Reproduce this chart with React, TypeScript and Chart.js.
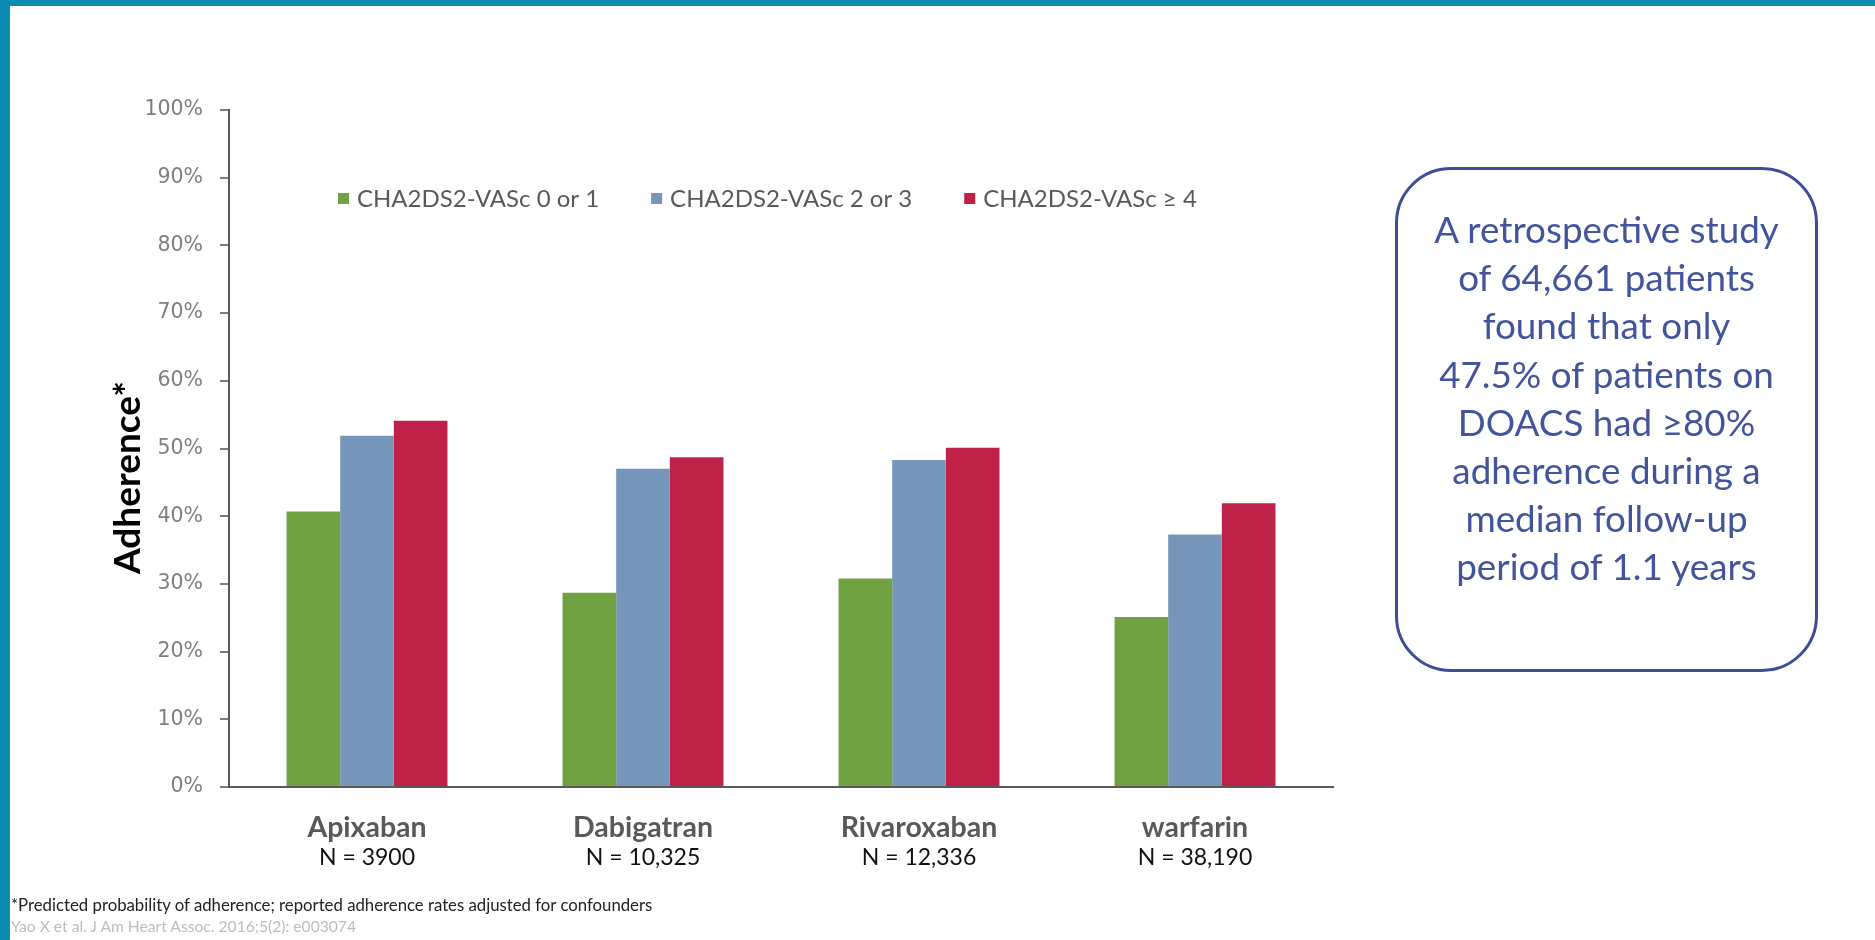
import React, { useEffect, useRef } from "react";
import { Chart, registerables } from "chart.js";

Chart.register(...registerables);

const categories = ["Apixaban", "Dabigatran", "Rivaroxaban", "warfarin"];
const sampleSizes = ["N = 3900", "N = 10,325", "N = 12,336", "N = 38,190"];
const seriesLabels = ["CHA2DS2-VASc 0 or 1", "CHA2DS2-VASc 2 or 3", "CHA2DS2-VASc \u2265 4"];
const score0to1 = [40.7, 28.7, 30.8, 25.1];
const score2to3 = [51.9, 47.0, 48.3, 37.3];
const score4plus = [54.1, 48.7, 50.1, 41.9];
const seriesColors = ["#70a143", "#7797ba", "#bf2248"];
const yTicks = [0, 10, 20, 30, 40, 50, 60, 70, 80, 90, 100];
const yAxisTitle = "Adherence*";

const boxLines = [
  "A retrospective study",
  "of 64,661 patients",
  "found that only",
  "47.5% of patients on",
  "DOACS had \u226580%",
  "adherence during a",
  "median follow-up",
  "period of 1.1 years",
];

const CALIBRI = "Lato, 'Open Sans', sans-serif";

const customLegend = {
  id: "customLegend",
  afterDraw(chart: any) {
    const ctx = chart.ctx;
    ctx.save();
    ctx.font = `24px ${CALIBRI}`;
    ctx.textBaseline = "middle";
    ctx.textAlign = "left";
    let x = 338;
    const y = 199;
    chart.data.datasets.forEach((ds: any) => {
      ctx.fillStyle = ds.backgroundColor;
      ctx.fillRect(x, y - 6, 11, 11);
      ctx.fillStyle = "#595959";
      ctx.fillText(ds.label, x + 19, y);
      x += 19 + ctx.measureText(ds.label).width + 52;
    });
    ctx.restore();
  },
};

const extraLabels = {
  id: "extraLabels",
  afterDraw(chart: any) {
    const ctx = chart.ctx;
    const xs = chart.scales.x;
    const ys = chart.scales.y;
    ctx.save();
    ctx.font = `23px ${CALIBRI}`;
    ctx.fillStyle = "#111111";
    ctx.textAlign = "center";
    ctx.textBaseline = "middle";
    sampleSizes.forEach((s, i) => {
      ctx.fillText(s, xs.getPixelForValue(i), 858);
    });
    ctx.restore();

    ctx.save();
    ctx.font = `bold 37px ${CALIBRI}`;
    ctx.fillStyle = "#000000";
    ctx.textAlign = "center";
    ctx.textBaseline = "alphabetic";
    ctx.translate(140, (ys.getPixelForValue(0) + ys.getPixelForValue(100)) / 2 + 29);
    ctx.rotate(-Math.PI / 2);
    ctx.fillText(yAxisTitle, 0, 0);
    ctx.restore();
  },
};

function BarChart() {
  const ref = useRef<HTMLCanvasElement | null>(null);
  useEffect(() => {
    if (!ref.current) return;
    const chart = new Chart(ref.current, {
      type: "bar",
      data: {
        labels: categories,
        datasets: [
          { label: seriesLabels[0], data: score0to1, backgroundColor: seriesColors[0] },
          { label: seriesLabels[1], data: score2to3, backgroundColor: seriesColors[1] },
          { label: seriesLabels[2], data: score4plus, backgroundColor: seriesColors[2] },
        ],
      },
      options: {
        animation: false,
        responsive: false,
        devicePixelRatio: 1,
        layout: { padding: { left: 0, top: 110, right: 47, bottom: 13 } },
        datasets: { bar: { categoryPercentage: 0.583, barPercentage: 1.0, borderWidth: 0 } },
        plugins: { legend: { display: false }, tooltip: { enabled: false }, title: { display: false } },
        scales: {
          x: {
            grid: { display: false, drawTicks: false },
            border: { display: true, color: "#595959", width: 2 },
            ticks: {
              font: { family: CALIBRI, size: 28.5, weight: "bold" },
              color: "#595959",
              padding: 24,
            },
            afterFit: (s: any) => {
              s.height = 100;
            },
          },
          y: {
            min: 0,
            max: 100,
            afterBuildTicks: (s: any) => {
              s.ticks = yTicks.map((v) => ({ value: v }));
            },
            grid: { drawOnChartArea: false, drawTicks: true, tickLength: 9, color: "#7f7f7f", lineWidth: 2 },
            border: { display: true, color: "#595959", width: 2 },
            ticks: {
              font: { family: "'DejaVu Sans', sans-serif", size: 20.5 },
              color: "#7f7f7f",
              padding: 17,
              callback: (v: any) => `${v}%`,
            },
            title: { display: false },
            afterFit: (s: any) => {
              s.width = 229;
            },
          },
        },
      },
      plugins: [customLegend, extraLabels],
    });
    return () => chart.destroy();
  }, []);
  return <canvas ref={ref} width={1380} height={900} style={{ width: 1380, height: 900, display: "block" }} />;
}

export default function App() {
  return (
    <div
      style={{
        position: "absolute",
        left: 0,
        top: 0,
        width: 1875,
        height: 940,
        background: "#ffffff",
        overflow: "hidden",
      }}
    >
      <div style={{ position: "absolute", left: 0, top: 0, width: 1875, height: 6, background: "#0a8cb3" }} />
      <div style={{ position: "absolute", left: 0, top: 0, width: 10, height: 940, background: "#0a8cb3" }} />
      <div style={{ position: "absolute", left: 0, top: 0 }}>
        <BarChart />
      </div>
      <div
        style={{
          position: "absolute",
          left: 1395,
          top: 167,
          width: 423,
          height: 505,
          boxSizing: "border-box",
          border: "3.5px solid #3d4e96",
          borderRadius: 56,
        }}
      >
        <div
          style={{
            position: "absolute",
            left: -20,
            right: -20,
            top: 35,
            textAlign: "center",
            fontFamily: CALIBRI,
            fontSize: 36.8,
            lineHeight: "48.2px",
            color: "#44549c",
          }}
        >
          {boxLines.map((l, i) => (
            <div key={i}>{l}</div>
          ))}
        </div>
      </div>
      <div
        style={{
          position: "absolute",
          left: 11,
          top: 895,
          fontFamily: CALIBRI,
          fontSize: 16.75,
          lineHeight: "20px",
          color: "#222222",
          whiteSpace: "nowrap",
        }}
      >
        *Predicted probability of adherence; reported adherence rates adjusted for confounders
      </div>
      <div
        style={{
          position: "absolute",
          left: 11,
          top: 916,
          fontFamily: CALIBRI,
          fontSize: 15.65,
          lineHeight: "20px",
          color: "#bdbdbd",
          whiteSpace: "nowrap",
        }}
      >
        Yao X et al. J Am Heart Assoc. 2016;5(2): e003074
      </div>
    </div>
  );
}
